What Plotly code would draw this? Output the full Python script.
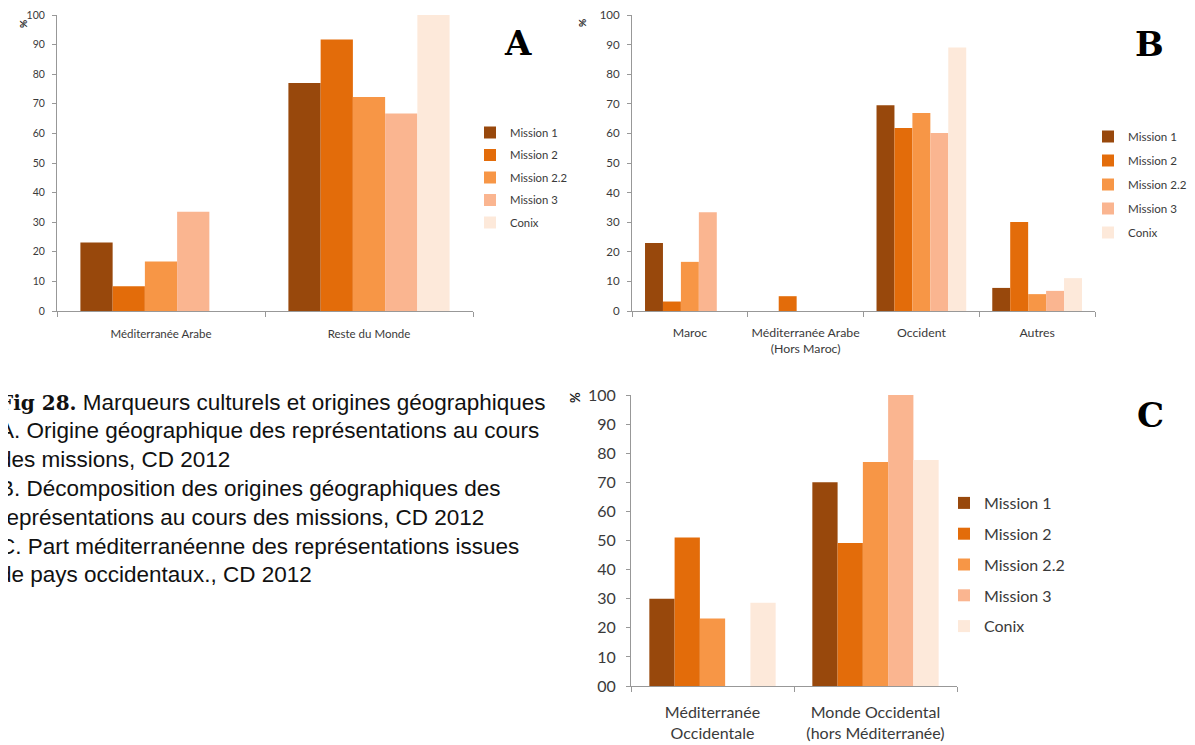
import plotly.graph_objects as go

# ---------------- data ----------------
series = ["Mission 1", "Mission 2", "Mission 2.2", "Mission 3", "Conix"]
colors = ["#98480C", "#E36C0A", "#F79646", "#FAB590", "#FDE9DA"]

# Panel A
cats_a = ["Méditerranée Arabe", "Reste du Monde"]
a_m1 = [23.1, 77.0]
a_m2 = [8.4, 91.7]
a_m22 = [16.7, 72.3]
a_m3 = [33.5, 66.7]
a_conix = [0, 100.0]

# Panel B
cats_b = ["Maroc", "Méditerranée Arabe<br>(Hors Maroc)", "Occident", "Autres"]
b_m1 = [23.0, 0, 69.5, 7.8]
b_m2 = [3.2, 5.0, 61.8, 30.1]
b_m22 = [16.6, 0, 66.9, 5.7]
b_m3 = [33.4, 0, 60.1, 6.8]
b_conix = [0, 0, 89.0, 11.1]

# Panel C
cats_c = ["Méditerranée<br>Occidentale", "Monde Occidental<br>(hors Méditerranée)"]
c_m1 = [30.0, 70.0]
c_m2 = [51.0, 49.1]
c_m22 = [23.2, 77.0]
c_m3 = [0, 100.0]
c_conix = [28.6, 77.7]

y_ticks = list(range(0, 101, 10))
c_tick_text = ["00", "10", "20", "30", "40", "50", "60", "70", "80", "90", "100"]

caption_lines = [
    "<b><span style=\"font-family:DejaVu Serif;font-size:20px\">Fig 28.</span></b> Marqueurs culturels et origines géographiques",
    "A. Origine géographique des représentations au cours",
    "des missions, CD 2012",
    "B. Décomposition des origines géographiques des",
    "représentations au cours des missions, CD 2012",
    "C. Part méditerranéenne des représentations issues",
    "de pays occidentaux., CD 2012",
]

# ---------------- layout helpers ----------------
# page body has an 8px margin: figure drawn from (8, 8) of the window
OFF = 8
W, H = 1195 - OFF, 745 - OFF
FONT = "Lato, Open Sans, sans-serif"
TXT = "#3A3A3A"
AX = "#989898"


def px(x):
    return (x - OFF) / W


def py(y):
    return 1 - (y - OFF) / H


fig = go.Figure()

panels = [
    ("x", "y", cats_a, [a_m1, a_m2, a_m22, a_m3, a_conix], "legend"),
    ("x2", "y2", cats_b, [b_m1, b_m2, b_m22, b_m3, b_conix], "legend2"),
    ("x3", "y3", cats_c, [c_m1, c_m2, c_m22, c_m3, c_conix], "legend3"),
]

for xa, ya, cats, vals, leg in panels:
    for name, col, v in zip(series, colors, vals):
        fig.add_trace(go.Bar(
            x=cats, y=v, name=name, marker=dict(color=col, line=dict(width=0)),
            xaxis=xa, yaxis=ya, legend=leg, legendgroup=leg + name,
        ))


def xaxis(dom, anchor, fs, standoff):
    return dict(domain=dom, anchor=anchor, type="category", showline=True,
                linecolor=AX, linewidth=1, ticks="outside", tickson="boundaries",
                ticklen=5, tickcolor=AX, tickangle=0, automargin=False,
                tickfont=dict(family=FONT, size=fs, color=TXT),
                ticklabelstandoff=standoff, showgrid=False, zeroline=False, fixedrange=True)


def yaxis(dom, anchor, fs, standoff, **kw):
    d = dict(domain=dom, anchor=anchor, range=[0, 100], tickvals=y_ticks, showline=True,
             linecolor=AX, linewidth=1, ticks="outside", ticklen=4, tickcolor=AX,
             automargin=False, tickfont=dict(family=FONT, size=fs, color=TXT),
             ticklabelstandoff=standoff, showgrid=False, zeroline=False, fixedrange=True)
    d.update(kw)
    return d


legend_common = dict(bgcolor="rgba(0,0,0,0)", borderwidth=0, xanchor="left", yanchor="top",
                     itemclick=False, itemdoubleclick=False)

fig.update_layout(
    width=W, height=H, autosize=False,
    margin=dict(l=0, r=0, t=0, b=0, autoexpand=False),
    paper_bgcolor="white", plot_bgcolor="white",
    barmode="group", bargap=0.225, bargroupgap=0,
    font=dict(family=FONT, color=TXT),
    xaxis=xaxis([px(57), px(473)], "y", 11.5, 12),
    yaxis=yaxis([py(311), py(15)], "x", 10.5, 5),
    xaxis2=xaxis([px(632), px(1095)], "y2", 12.3, 10),
    yaxis2=yaxis([py(311), py(15)], "x2", 11.5, 5),
    xaxis3=xaxis([px(631), px(957)], "y3", 16, 12),
    yaxis3=yaxis([py(686), py(395)], "x3", 16, 7, ticktext=c_tick_text),
    legend=dict(x=px(470), y=py(118), font=dict(family=FONT, size=11.3, color=TXT),
                tracegroupgap=3.5, **legend_common),
    legend2=dict(x=px(1088), y=py(122), font=dict(family=FONT, size=11.6, color=TXT),
                 tracegroupgap=5, **legend_common),
    legend3=dict(x=px(944), y=py(486), font=dict(family=FONT, size=16, color=TXT),
                 tracegroupgap=7, **legend_common),
    showlegend=True,
)

annotations = []
# percent signs
for (xx, yy, fs) in [(15, 18, 10), (582, 17, 10), (575, 398, 13)]:
    annotations.append(dict(text="%", x=px(xx), y=py(yy), xref="paper", yref="paper",
                            showarrow=False, textangle=-90,
                            font=dict(family=FONT, size=fs, color="#222", weight="bold")))
# panel letters
for (lab, xx, yy) in [("A", 518, 43), ("B", 1149, 44), ("C", 1150, 415)]:
    annotations.append(dict(text=lab, x=px(xx), y=py(yy), xref="paper", yref="paper",
                            showarrow=False, xanchor="center", yanchor="middle",
                            font=dict(family="DejaVu Serif", size=34, color="black", weight="bold")))
# caption
for i, line in enumerate(caption_lines):
    annotations.append(dict(text=line, x=px(-3), y=py(402 + i * 28.8), xref="paper", yref="paper",
                            showarrow=False, xanchor="left", yanchor="middle", align="left",
                            font=dict(family="Liberation Sans, Arial", size=22.5, color="#111")))
fig.update_layout(annotations=annotations)

fig.write_html("out.html")
